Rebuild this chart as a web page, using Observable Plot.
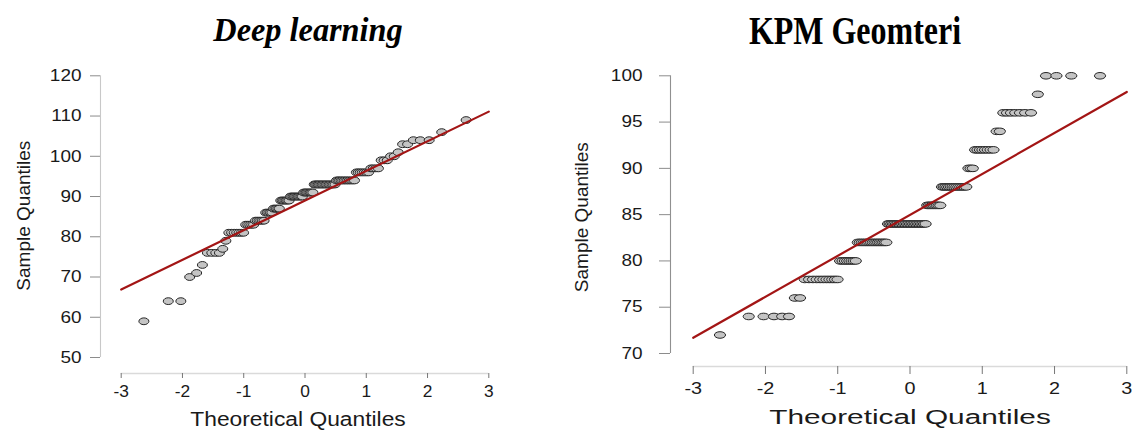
<!DOCTYPE html>
<html>
<head>
<meta charset="utf-8">
<script src="https://cdn.jsdelivr.net/npm/d3@7"></script>
<script src="https://cdn.jsdelivr.net/npm/@observablehq/plot@0.6"></script>
<style>
  html, body { margin: 0; padding: 0; background: #fff; }
  #wrap { position: relative; width: 1135px; height: 431px; overflow: hidden; background: #fff; }
  .title { position: absolute; font-family: "Liberation Serif", "Times New Roman", serif; font-weight: bold; line-height: 1; color: #000; white-space: nowrap; }
  .panel { position: absolute; top: 0; }
</style>
</head>
<body>
<div id="wrap">
  <div class="title" id="t1" style="left:308px; top:12.5px; font-size:34px; font-style:italic; transform: translateX(-50%) scaleX(0.95);"></div>
  <div class="title" id="t2" style="left:855px; top:10.6px; font-size:39px; transform: translateX(-50%) scaleX(0.82);"></div>
  <div class="panel" id="left" style="left:0px"></div>
  <div class="panel" id="right" style="left:560px"></div>
</div>
<script>
// ---------- data ----------
const xTicks = [-3, -2, -1, 0, 1, 2, 3];
const xTickLabels = ["-3", "-2", "-1", "0", "1", "2", "3"];
const xLabel = "Theoretical Quantiles";
const yLabel = "Sample Quantiles";
const lineX = [-3, 3];

const dlTitle = "Deep learning";
const dlValues = [59, 64, 70, 71, 73, 76, 77, 79, 81, 83, 84, 86, 87, 89, 90, 91, 93, 94, 96, 97, 99, 100, 101, 103, 104, 106, 109];
const dlCounts = [1, 2, 1, 1, 1, 4, 1, 1, 7, 5, 6, 5, 5, 7, 10, 8, 16, 12, 7, 4, 3, 2, 1, 2, 3, 1, 1];
const dlYTicks = [50, 60, 70, 80, 90, 100, 110, 120];
const dlLineY = [66.9, 111.1];

const kpmTitle = "KPM Geomteri";
const kpmValues = [72, 74, 76, 78, 80, 82, 84, 86, 88, 90, 92, 94, 96, 98, 100];
const kpmCounts = [1, 5, 2, 11, 8, 17, 25, 9, 14, 3, 8, 2, 7, 1, 4];
const kpmYTicks = [70, 75, 80, 85, 90, 95, 100];
const kpmLineY = [71.7, 98.25];

// ---------- helpers ----------
// inverse standard normal CDF (Acklam), used for the normal-QQ theoretical quantiles
function qnorm(p) {
  const a = [-3.969683028665376e+01, 2.209460984245205e+02, -2.759285104469687e+02, 1.383577518672690e+02, -3.066479806614716e+01, 2.506628277459239e+00];
  const b = [-5.447609879822406e+01, 1.615858368580409e+02, -1.556989798598866e+02, 6.680131188771972e+01, -1.328068155288572e+01];
  const c = [-7.784894002430293e-03, -3.223964580411365e-01, -2.400758277161838e+00, -2.549732539343734e+00, 4.374664141464968e+00, 2.938163982698783e+00];
  const d = [7.784695709041462e-03, 3.224671290700398e-01, 2.445134137142996e+00, 3.754408661907416e+00];
  const pl = 0.02425, ph = 1 - pl;
  let q, r;
  if (p < pl) {
    q = Math.sqrt(-2 * Math.log(p));
    return (((((c[0]*q+c[1])*q+c[2])*q+c[3])*q+c[4])*q+c[5]) / ((((d[0]*q+d[1])*q+d[2])*q+d[3])*q+1);
  }
  if (p > ph) {
    q = Math.sqrt(-2 * Math.log(1 - p));
    return -(((((c[0]*q+c[1])*q+c[2])*q+c[3])*q+c[4])*q+c[5]) / ((((d[0]*q+d[1])*q+d[2])*q+d[3])*q+1);
  }
  q = p - 0.5; r = q * q;
  return (((((a[0]*r+a[1])*r+a[2])*r+a[3])*r+a[4])*r+a[5])*q / (((((b[0]*r+b[1])*r+b[2])*r+b[3])*r+b[4])*r+1);
}
function qqRows(values, counts) {
  const sample = values.flatMap((v, i) => Array(counts[i]).fill(v));
  const n = sample.length;
  return sample.map((v, i) => ({theoretical: qnorm((i + 0.5) / n), sample: v}));
}
function ellipse(rx, ry) {
  const k = 0.5522847;
  return {draw(ctx) {
    ctx.moveTo(rx, 0);
    ctx.bezierCurveTo(rx, k*ry, k*rx, ry, 0, ry);
    ctx.bezierCurveTo(-k*rx, ry, -rx, k*ry, -rx, 0);
    ctx.bezierCurveTo(-rx, -k*ry, -k*rx, -ry, 0, -ry);
    ctx.bezierCurveTo(k*rx, -ry, rx, -k*ry, rx, 0);
    ctx.closePath();
  }};
}

function panel(cfg) {
  const rows = qqRows(cfg.values, cfg.counts);
  const line = lineX.map((x, i) => ({x, y: cfg.lineY[i]}));
  const yt = cfg.yTicks;
  const H = 431;
  const plot = Plot.plot({
    width: cfg.width, height: H,
    marginLeft: cfg.axisLeft, marginRight: cfg.width - cfg.xRange[1],
    marginTop: cfg.yRange[1], marginBottom: H - cfg.axisBottom,
    x: {domain: [xTicks[0], xTicks[xTicks.length - 1]], range: cfg.xRange, label: null},
    y: {domain: [yt[0], yt[yt.length - 1]], range: cfg.yRange, label: null},
    style: {fontFamily: '"Liberation Sans", Arial, Helvetica, sans-serif', background: "transparent", color: "#1a1a1a", overflow: "visible"},
    marks: [
      Plot.ruleX([xTicks[0]], {y1: yt[0], y2: yt[yt.length - 1], dx: cfg.axisLeft - cfg.xRange[0], stroke: cfg.yAxisColor, strokeWidth: 1.1}),
      Plot.axisY({ticks: yt, tickFormat: d => String(d), tickSize: cfg.yTickSize, tickPadding: cfg.yTickPad,
        stroke: "#8c8c8c", fill: "#1a1a1a", fontSize: 16.5, label: null}),
      Plot.ruleY([yt[0]], {x1: xTicks[0], x2: xTicks[xTicks.length - 1], dy: cfg.axisBottom - cfg.yRange[0], stroke: "#dadada", strokeWidth: 1.3}),
      Plot.axisX({ticks: xTicks, tickFormat: d => xTickLabels[xTicks.indexOf(d)], tickSize: cfg.xTickSize, tickPadding: cfg.xTickPad,
        stroke: "#777", fill: "#1a1a1a", fontSize: 16.5, label: null}),
      Plot.dot(rows, {x: "theoretical", y: "sample", symbol: ellipse(cfg.rx, cfg.ry), fill: "#c4c4c4", stroke: "#262626", strokeWidth: 1}),
      Plot.line(line, {x: "x", y: "y", stroke: "#a31515", strokeWidth: 2.2}),
      Plot.text([xLabel], {text: d => d, x: () => 0, frameAnchor: "bottom", dx: cfg.xLabelDx, dy: cfg.xLabelDy,
        fontSize: 20, textAnchor: "middle", lineAnchor: "middle", fill: "#1a1a1a"}),
      Plot.text([yLabel], {text: d => d, frameAnchor: "left", dx: cfg.yLabelX - cfg.axisLeft, dy: cfg.yLabelDy,
        rotate: -90, fontSize: 19, textAnchor: "middle", lineAnchor: "middle", fill: "#1a1a1a"})
    ]
  });
  document.getElementById(cfg.id).appendChild(plot);
  const ytStr = yt.map(String);
  plot.querySelectorAll("text").forEach(t => {
    const s = t.textContent;
    let L = null;
    const cur = t.getComputedTextLength();
    if (s === xLabel) L = cur * cfg.xLabelK;
    else if (xTickLabels.includes(s)) L = cur * cfg.xTickK;
    else if (ytStr.includes(s)) L = cur * cfg.yTickK;
    if (L != null) {
      t.setAttribute("textLength", L.toFixed(2));
      t.setAttribute("lengthAdjust", "spacingAndGlyphs");
    }
  });
}

document.getElementById("t1").textContent = dlTitle;
document.getElementById("t2").textContent = kpmTitle;

panel({
  id: "left", width: 560, values: dlValues, counts: dlCounts, yTicks: dlYTicks, lineY: dlLineY,
  xRange: [120.7, 488.3], yRange: [357, 75.3], axisLeft: 100, axisBottom: 373,
  yTickSize: 10, yTickPad: 9, xTickSize: 5, xTickPad: 7, yAxisColor: "#c8c8c8",
  rx: 5.0, ry: 3.4, xLabelDx: -7, xLabelDy: 46, yLabelX: 23, yLabelDy: -9,
  xLabelK: 1.14, xTickK: 1.05, yTickK: 1.15
});
panel({
  id: "right", width: 575, values: kpmValues, counts: kpmCounts, yTicks: kpmYTicks, lineY: kpmLineY,
  xRange: [132.7, 566.3], yRange: [353, 75.3], axisLeft: 110, axisBottom: 366,
  yTickSize: 11, yTickPad: 17, xTickSize: 8, xTickPad: 8, yAxisColor: "#909090",
  rx: 5.6, ry: 3.3, xLabelDx: 0, xLabelDy: 51, yLabelX: 21, yLabelDy: -4,
  xLabelK: 1.49, xTickK: 1.2, yTickK: 1.15
});
</script>
</body>
</html>
